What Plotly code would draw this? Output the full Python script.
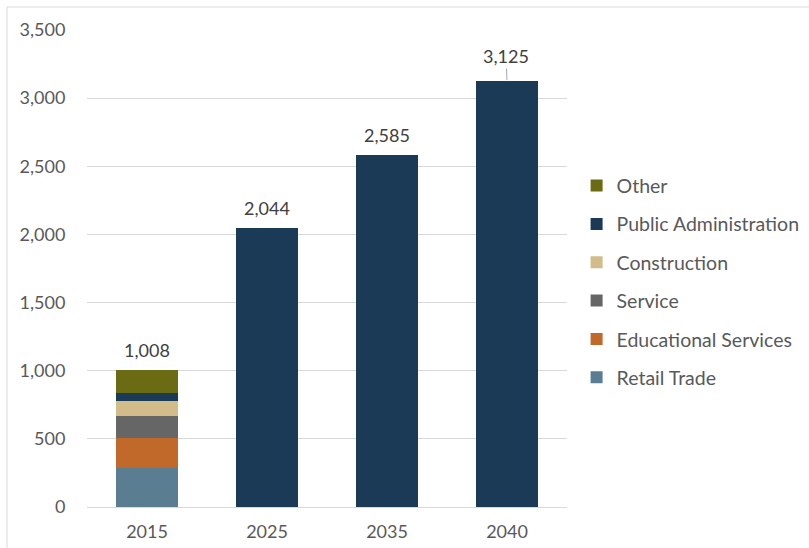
import plotly.graph_objects as go

years = ["2015", "2025", "2035", "2040"]
sectors = ["Retail Trade", "Educational Services", "Service",
           "Construction", "Public Administration", "Other"]
colors = ["#5b7d92", "#c0692a", "#666666", "#d2bc8a", "#1a3a56", "#6b6b13"]

# employment by sector; the forecast years only carry a single total
values = {
    "Retail Trade":          [285, 0, 0, 0],
    "Educational Services":  [220, 0, 0, 0],
    "Service":               [165, 0, 0, 0],
    "Construction":          [105, 0, 0, 0],
    "Public Administration": [60, 2044, 2585, 3125],
    "Other":                 [173, 0, 0, 0],
}
totals = [1008, 2044, 2585, 3125]
total_labels = ["1,008", "2,044", "2,585", "3,125"]

FONT = "Lato"
pos = list(range(len(years)))

fig = go.Figure()
for i, (name, col) in enumerate(zip(sectors, colors)):
    # legend lists the top of the stack first
    fig.add_trace(go.Bar(x=pos, y=values[name], name=name, marker_color=col,
                         marker_line_width=0, width=0.51, legendgroup=name,
                         legendrank=1000 - i, hoverinfo="skip"))

for p, tot, lab in zip(pos, totals, total_labels):
    if lab == "3,125":
        # label nudged up with a short leader line
        fig.add_annotation(x=p, y=tot, text=lab, showarrow=True,
                           arrowhead=0, arrowwidth=1, arrowcolor="#a6a6a6",
                           ax=-1, ay=-25, standoff=1,
                           font=dict(family=FONT, size=18, color="#404040"))
    else:
        fig.add_annotation(x=p, y=tot, text=lab, showarrow=False,
                           yanchor="bottom", yshift=7,
                           font=dict(family=FONT, size=18, color="#404040"))

# outer chart frame (left and top edges fall inside the page)
fig.add_shape(type="rect", xref="paper", yref="paper",
              x0=(7 - 87) / 480, x1=1.8, y0=-0.3, y1=(507 - 7) / 477,
              line=dict(color="#d9d9d9", width=1), layer="below")

fig.update_layout(
    width=809, height=548,
    margin=dict(l=87, r=242, t=30, b=41, autoexpand=False),
    barmode="stack",
    plot_bgcolor="white", paper_bgcolor="white",
    font=dict(family=FONT, size=18, color="#595959"),
    legend=dict(traceorder="grouped", tracegroupgap=10,
                x=1.02, xanchor="left", y=0.472, yanchor="middle",
                font=dict(family=FONT, size=19.5, color="#595959")),
    xaxis=dict(range=[-0.5, 3.5], tickvals=pos, ticktext=years,
               showgrid=False, zeroline=False, showline=False,
               ticks="outside", ticklen=8, tickcolor="rgba(0,0,0,0)"),
    yaxis=dict(range=[0, 3500], dtick=500, tickformat=",",
               showgrid=True, gridcolor="#d9d9d9", gridwidth=1,
               zeroline=True, zerolinecolor="#d9d9d9", zerolinewidth=1,
               showline=False,
               ticks="outside", ticklen=17, tickcolor="rgba(0,0,0,0)"),
)

fig.write_html("out.html")
